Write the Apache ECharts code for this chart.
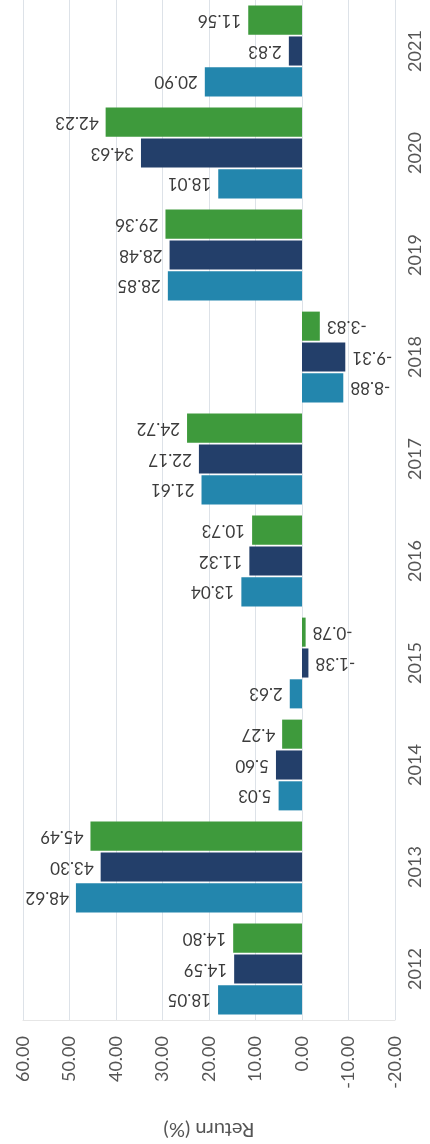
<!DOCTYPE html>
<html><head><meta charset="utf-8">
<script src="https://cdn.jsdelivr.net/npm/echarts@6/dist/echarts.min.js"></script>
<style>html,body{margin:0;padding:0;background:#fff}#c{width:430px;height:1144px}</style>
</head><body><div id="c"></div>
<script>
const years = ['2012','2013','2014','2015','2016','2017','2018','2019','2020','2021'];
const lightBlue = [18.05, 48.62, 5.03, 2.63, 13.04, 21.61, -8.88, 28.85, 18.01, 20.90];
const navy      = [14.59, 43.30, 5.60, -1.38, 11.32, 22.17, -9.31, 28.48, 34.63, 2.83];
const green     = [14.80, 45.49, 4.27, -0.78, 10.73, 24.72, -3.83, 29.36, 42.23, 11.56];
const axisMin = -20, axisMax = 60, axisStep = 10;
const axisName = 'Return (%)';

const FONT = 'Lato, "Noto Sans", sans-serif';
function items(arr) {
  return arr.map(v => ({
    value: v,
    label: { position: v >= 0 ? 'left' : 'right', align: v >= 0 ? 'left' : 'right' }
  }));
}
function mk(name, arr, color) {
  return {
    name, type: 'bar', data: items(arr),
    itemStyle: { color },
    barCategoryGap: '11%', barGap: '6%',
    label: {
      show: true, rotate: 180, distance: 7, verticalAlign: 'middle',
      formatter: p => p.value.toFixed(2),
      fontFamily: FONT, fontSize: 17, color: '#3c3c3c'
    }
  };
}
const chart = echarts.init(document.getElementById('c'));
chart.setOption({
  animation: false,
  backgroundColor: '#fff',
  grid: { left: 23, right: 35, top: 0, bottom: 118, containLabel: false },
  xAxis: {
    type: 'value', min: axisMin, max: axisMax, interval: axisStep, inverse: true, position: 'bottom',
    axisLabel: { rotate: 90, margin: 16, fontFamily: FONT, fontSize: 18, color: '#555',
      formatter: v => v.toFixed(2) },
    axisTick: { show: false },
    axisLine: { show: true, lineStyle: { color: '#e6e6e6' } },
    splitLine: { show: true, lineStyle: { color: '#dde2e8', width: 1 } },
    name: axisName, nameLocation: 'middle', nameGap: 99, nameRotate: 180,
    nameTextStyle: { fontFamily: FONT, fontSize: 20, color: '#555' }
  },
  yAxis: {
    type: 'category', data: years, position: 'right',
    axisLine: { show: false, onZero: false },
    axisTick: { show: false },
    splitLine: { show: false },
    axisLabel: { rotate: 90, margin: 11, fontFamily: FONT, fontSize: 18, color: '#555' }
  },
  series: [
    mk('Green', green, '#3e9a3c'),
    mk('Navy', navy, '#233f6a'),
    mk('Light blue', lightBlue, '#2386ad')
  ]
});
</script></body></html>
